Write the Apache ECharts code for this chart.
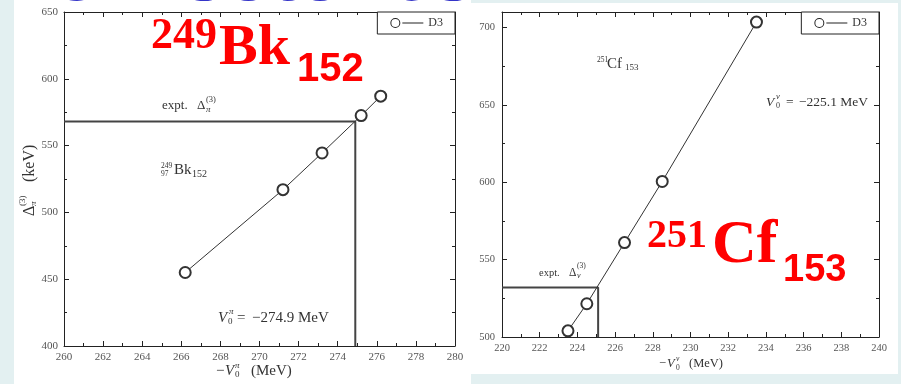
<!DOCTYPE html>
<html><head><meta charset="utf-8">
<script src="https://cdn.jsdelivr.net/npm/echarts@6/dist/echarts.min.js"></script>
<style>html,body{margin:0;padding:0;background:#fff}#c{width:901px;height:384px}</style>
</head><body><div id="c"></div>
<script>
// ---- data ----
const leftX = [266.2, 271.2, 273.2, 275.2, 276.2];
const leftY = [455, 517, 544.5, 572.5, 587];
const leftExptX = [260, 274.9, 274.9];
const leftExptY = [568, 568, 400];
const rightX = [223.5, 224.5, 226.5, 228.5, 233.5];
const rightY = [504, 521.5, 561, 600.5, 703.5];
const rightExptX = [220, 225.1, 225.1];
const rightExptY = [532, 532, 500];
const seriesName = 'D3';
const leftXRange = [260, 280, 2];
const leftYRange = [400, 650, 50];
const rightXRange = [220, 240, 2];
const rightYRange = [500, 710, 50];

const zip = (a, b) => a.map((v, i) => [v, b[i]]);
const SERIF = "'Liberation Serif', 'Times New Roman', serif";
const SANS = "'Liberation Sans', Arial, sans-serif";
const INK = '#222';

function axisBase(range, grid, pos, showLabel, fs, margin) {
  return {
    type: 'value', gridIndex: grid, position: pos,
    min: range[0], max: range[1], interval: range[2],
    axisLine: { show: true, onZero: false, lineStyle: { color: INK, width: 1 } },
    axisTick: { show: true, inside: true, length: 5, lineStyle: { color: INK, width: 1 } },
    minorTick: { show: true, splitNumber: 2, length: 3, lineStyle: { color: INK, width: 1 } },
    splitLine: { show: false },
    axisLabel: { show: showLabel, fontFamily: SERIF, fontSize: fs, color: '#555', margin: margin, showMaxLabel: (range[1] % range[2] === 0) }
  };
}

function T(x, y, text, size, opt) {
  opt = opt || {};
  return {
    type: 'text', x: x, y: y, z: 50,
    style: {
      text: text,
      font: (opt.italic ? 'italic ' : '') + (opt.bold ? 'bold ' : '') + size + 'px ' + (opt.family || SERIF),
      fill: opt.fill || '#333', verticalAlign: 'middle', align: opt.align || 'left'
    }
  };
}
function R(x, y, w, h, fill, z) {
  return { type: 'rect', z: z, shape: { x: x, y: y, width: w, height: h }, style: { fill: fill }, silent: true };
}

const CYAN = '#e3f0f1';
const RED = '#ff0000';

const graphics = [
  R(0, 0, 14, 384, CYAN, -100),
  R(471, 0, 430, 3, CYAN, -100),
  R(898, 0, 3, 384, CYAN, -100),
  R(471, 374, 430, 10, CYAN, -100),
  // blue title (cut off at top)
  { type: 'text', x: 14, y: -21, z: 60, style: { text: '152 Isotones', font: 'bold 76px ' + SANS, fill: '#3434c8', verticalAlign: 'middle' } },
  // left annotations
  T(162, 106, 'expt.', 13),
  T(197, 106, 'Δ', 13),
  T(206, 100, '(3)', 8.5),
  T(206, 110, 'π', 9, { italic: true }),
  T(161, 166, '249', 7.5),
  T(161, 174, '97', 7.5),
  T(174, 170, 'Bk', 15),
  T(192, 174, '152', 10),
  T(218, 318, 'V', 15, { italic: true }),
  T(228, 322, '0', 9),
  T(229, 312, 'π', 9, { italic: true }),
  T(237, 318, '=', 15),
  T(252, 318, '−274.9 MeV', 15),
  // left axis names
  T(216, 371, '−', 15),
  T(225, 371, 'V', 15, { italic: true }),
  T(235, 375, '0', 9),
  T(235, 366, 'π', 9, { italic: true }),
  T(251, 371, '(MeV)', 15),
  { type: 'group', x: 30, y: 181, rotation: Math.PI / 2, z: 50, children: [
      T(-35, 0, 'Δ', 16),
      T(-25, 4, 'π', 9, { italic: true }),
      T(-25, -7, '(3)', 9),
      T(-1, 0, '(keV)', 16)
  ] },
  // right annotations
  T(597, 60, '251', 7.5),
  T(607, 64, 'Cf', 15),
  T(625, 68, '153', 9),
  T(766, 102, 'V', 13.5, { italic: true }),
  T(776, 106, '0', 8),
  T(776, 97, 'ν', 8.5, { italic: true }),
  T(786, 102, '=', 13.5),
  T(799, 102, '−225.1 MeV', 13.5),
  T(539, 273, 'expt.', 10.5),
  T(569, 273, 'Δ', 11.5),
  T(577, 266, '(3)', 7.5),
  T(577, 276, 'ν', 8, { italic: true }),
  T(659, 364, '−', 12.5),
  T(667, 364, 'V', 12.5, { italic: true }),
  T(676, 368, '0', 7.5),
  T(676, 359, 'ν', 7.5, { italic: true }),
  T(689, 364, '(MeV)', 12.5),
  // red overlays
  T(151, 37, '249', 44, { bold: true, fill: RED }),
  T(219, 49, 'Bk', 58, { bold: true, fill: RED }),
  T(297, 70, '152', 40, { bold: true, fill: RED, family: SANS }),
  T(647, 237, '251', 40, { bold: true, fill: RED }),
  T(712, 246, 'Cf', 62, { bold: true, fill: RED }),
  T(783, 271, '153', 38, { bold: true, fill: RED, family: SANS })
];

const legendIcon = 'path://M5,0 A5,5 0 1,1 5,10 A5,5 0 1,1 5,0 Z M5,1 A4,4 0 1,0 5,9 A4,4 0 1,0 5,1 Z M12,4.5 L33,4.5 L33,5.5 L12,5.5 Z';
function legendAt(right) {
  return {
    data: [seriesName], right: right, top: 12, orient: 'horizontal',
    backgroundColor: '#fff', borderColor: INK, borderWidth: 1, borderRadius: 0,
    padding: [5, 12, 5, 13], icon: legendIcon, itemWidth: 33, itemHeight: 10, itemGap: 5,
    itemStyle: { color: INK, borderWidth: 0 },
    textStyle: { fontFamily: SERIF, fontSize: 12, color: '#333' },
    selectedMode: false
  };
}

function pointSeries(x, y, xi, yi) {
  return {
    name: seriesName, type: 'line', xAxisIndex: xi, yAxisIndex: yi, data: zip(x, y),
    symbol: 'emptyCircle', symbolSize: 11, z: 5,
    lineStyle: { color: '#333', width: 1 },
    itemStyle: { color: '#333', borderWidth: 1 },
    emphasis: { disabled: true }, animation: false
  };
}
function exptSeries(x, y, xi, yi) {
  return {
    name: 'expt', type: 'line', xAxisIndex: xi, yAxisIndex: yi, data: zip(x, y),
    symbol: 'none', z: 3, lineStyle: { color: '#444', width: 2 }, animation: false
  };
}

const chart = echarts.init(document.getElementById('c'), null, { renderer: 'canvas' });
chart.setOption({
  animation: false,
  backgroundColor: '#fff',
  grid: [
    { left: 64, top: 12, width: 391, height: 334 },
    { left: 502, top: 12, width: 377, height: 325 }
  ],
  xAxis: [
    axisBase(leftXRange, 0, 'bottom', true, 11, 6),
    axisBase(leftXRange, 0, 'top', false, 11, 6),
    axisBase(rightXRange, 1, 'bottom', true, 10.5, 6),
    axisBase(rightXRange, 1, 'top', false, 10.5, 6)
  ],
  yAxis: [
    axisBase(leftYRange, 0, 'left', true, 11, 6),
    axisBase(leftYRange, 0, 'right', false, 11, 6),
    axisBase(rightYRange, 1, 'left', true, 10.5, 7),
    axisBase(rightYRange, 1, 'right', false, 10.5, 7)
  ],
  legend: [legendAt(901 - 455), legendAt(901 - 879)],
  series: [
    exptSeries(leftExptX, leftExptY, 0, 0),
    pointSeries(leftX, leftY, 0, 0),
    exptSeries(rightExptX, rightExptY, 2, 2),
    pointSeries(rightX, rightY, 2, 2)
  ],
  graphic: graphics
});
</script></body></html>
